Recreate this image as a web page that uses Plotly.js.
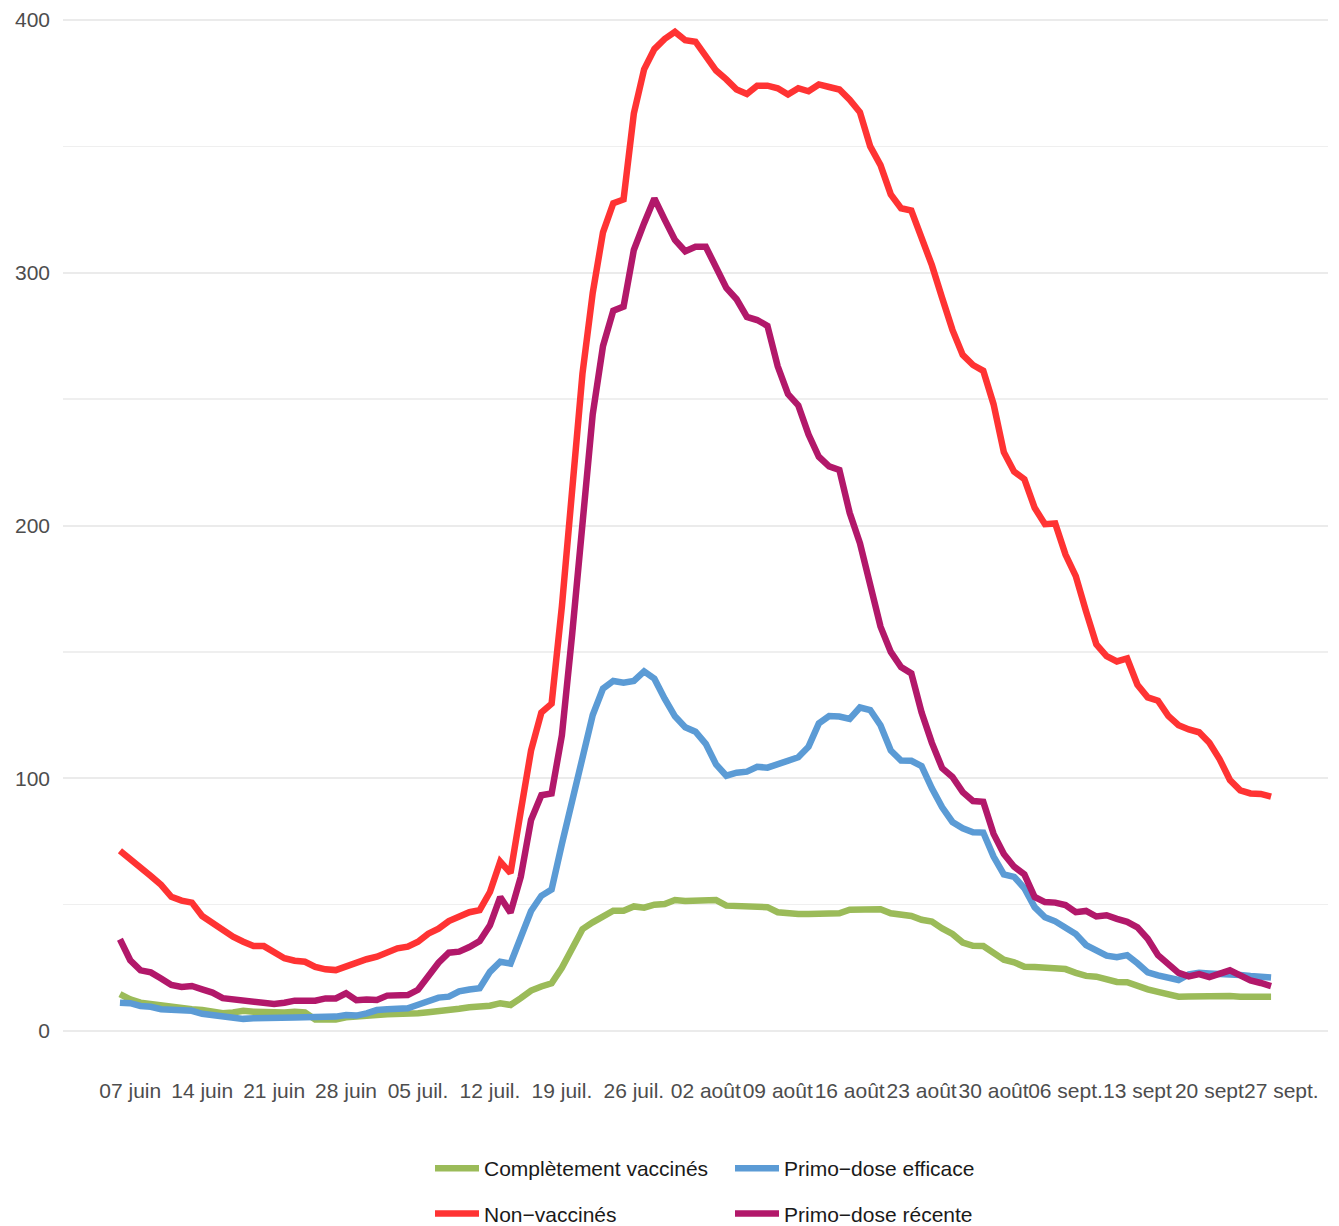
<!DOCTYPE html>
<html>
<head>
<meta charset="utf-8">
<script src="https://cdn.plot.ly/plotly-3.0.1.min.js"></script>
<style>
  html, body { margin: 0; padding: 0; background: #ffffff; }
  #chart { width: 1339px; height: 1226px; }
</style>
</head>
<body>
<div id="chart"></div>
<script>
// ---- Data (daily values, 06 June 2021 -> 26 Sept 2021) ----
const startDate = '2021-06-06';
const nDays = 113;

const seriesNames = ['Complètement vaccinés', 'Non\u2212vaccinés', 'Primo\u2212dose efficace', 'Primo\u2212dose récente'];

const completementVaccines = [
  14.6, 12.5, 11.2, 10.7, 9.6, 9.4, 9.0, 8.6, 8.3, 7.6,
  7.0, 7.3, 8.0, 7.6, 7.3, 7.3, 7.3, 7.6, 7.3, 4.6,
  4.6, 4.6, 5.4, 5.9, 6.3, 6.3, 6.6, 6.6, 6.7, 7.0,
  7.4, 7.7, 8.3, 8.8, 9.4, 9.7, 10.0, 11.0, 10.3, 13.0,
  16.0, 17.6, 18.9, 25.0, 32.5, 40.3, 43.0, 45.5, 47.6, 47.6,
  49.3, 48.8, 50.0, 50.2, 51.8, 51.4, 51.5, 51.8, 51.8, 49.6,
  49.5, 49.0, 49.1, 49.0, 47.0, 46.4, 46.3, 46.3, 46.5, 46.3,
  46.6, 48.0, 48.0, 48.0, 48.2, 46.6, 46.0, 45.5, 44.0, 43.3,
  40.6, 38.4, 35.0, 33.7, 33.6, 31.2, 28.2, 27.2, 25.4, 25.3,
  25.2, 25.0, 24.5, 23.0, 21.8, 21.5, 20.4, 19.4, 19.3, 17.8,
  16.5, 15.5, 14.6, 13.6, 13.7, 13.8, 14.0, 14.1, 13.8, 13.6,
  13.8, 13.6, 13.6
];

const nonVaccines = [
  71.3, 67.7, 64.8, 61.3, 57.8, 53.1, 51.6, 50.8, 45.5, 42.7,
  40.3, 37.3, 35.3, 33.6, 33.6, 31.0, 28.8, 27.8, 27.4, 25.4,
  24.4, 24.1, 25.7, 26.8, 28.4, 29.4, 31.4, 32.7, 33.4, 35.3,
  38.5, 40.5, 43.5, 45.3, 47.0, 47.8, 55.0, 67.0, 62.5, 87.0,
  111.0, 126.0, 129.5, 168.0, 212.0, 260.0, 292.0, 316.0, 327.5, 329.0,
  363.0, 380.5, 388.5, 392.5, 395.3, 392.0, 391.4, 385.3, 380.0, 376.5,
  372.5, 370.7, 374.0, 374.0, 373.0, 370.5, 373.0, 371.8, 374.5, 373.5,
  372.5, 368.5, 363.5, 350.0, 342.6, 331.0, 325.5, 324.6, 314.5, 303.0,
  290.0, 277.4, 267.5, 263.5, 261.2, 248.0, 229.0, 221.3, 218.3, 207.0,
  200.5, 200.8, 188.5, 180.0, 166.0, 153.0, 148.3, 146.2, 147.4, 137.0,
  132.0, 130.7, 124.7, 121.0, 119.3, 118.2, 114.0, 107.5, 99.3, 95.2,
  94.0, 93.8, 92.7
];

const primoDoseEfficace = [
  11.2, 11.0, 9.9, 9.6, 8.6, 8.6, 8.0, 8.0, 6.8, 6.3,
  6.1, 5.7, 4.8, 5.0, 5.0, 4.7, 5.0, 5.3, 5.4, 5.4,
  5.4, 5.7, 6.3, 6.1, 7.0, 8.3, 8.6, 9.0, 9.0, 10.4,
  12.0, 13.2, 13.6, 15.7, 16.4, 16.9, 23.4, 27.4, 26.7, 37.0,
  47.5, 53.5, 56.0, 74.0, 91.0, 110.5, 125.0, 135.5, 138.5, 137.8,
  138.5, 142.3, 139.4, 131.5, 124.5, 120.2, 118.4, 113.6, 105.5, 101.0,
  102.2, 102.6, 104.5, 104.2, 105.4, 107.2, 108.3, 112.5, 121.7, 124.6,
  124.4, 123.5, 128.0, 127.0, 121.0, 111.0, 107.0, 106.9, 104.8, 96.0,
  88.5, 82.7, 80.2, 78.6, 78.5, 69.0, 62.0, 61.0, 56.5, 49.0,
  45.0, 43.4, 41.0, 38.4, 34.0, 31.6, 29.8, 29.2, 30.0, 26.8,
  23.2, 22.0, 21.2, 20.2, 22.4, 23.0, 22.8, 22.8, 22.6, 22.2,
  21.8, 21.5, 21.2
];

const primoDoseRecente = [
  36.3, 28.0, 24.0, 23.2, 20.8, 18.2, 17.4, 17.8, 16.5, 15.2,
  13.0, 12.5, 12.0, 11.2, 10.8, 10.7, 11.2, 12.0, 12.0, 12.0,
  12.9, 12.9, 14.9, 12.2, 12.5, 12.3, 14.0, 14.2, 14.2, 16.3,
  22.0, 27.0, 31.0, 31.4, 33.2, 35.6, 41.8, 53.0, 46.8, 61.0,
  83.5, 93.3, 94.0, 117.0, 157.0, 201.0, 244.0, 271.0, 285.0, 286.6,
  309.0, 319.6, 329.4, 321.0, 313.0, 308.5, 310.3, 310.3, 302.0, 294.0,
  289.5, 282.5, 281.3, 279.0, 263.0, 252.0, 247.5, 236.0, 227.2, 223.4,
  222.0, 205.0, 193.0, 177.0, 160.0, 150.0, 144.0, 141.5, 126.0, 114.0,
  104.0, 100.5, 94.5, 91.0, 90.7, 78.0, 70.0, 65.0, 62.0, 53.0,
  51.0, 50.8, 49.8, 47.0, 47.5, 45.3, 45.8, 44.4, 43.2, 41.0,
  36.5, 30.0, 26.3, 23.0, 21.6, 22.5, 21.3, 22.5, 24.0, 22.0,
  20.0, 19.0, 17.8
];

const tickDates = ['2021-06-07','2021-06-14','2021-06-21','2021-06-28','2021-07-05','2021-07-12','2021-07-19','2021-07-26',
                   '2021-08-02','2021-08-09','2021-08-16','2021-08-23','2021-08-30','2021-09-06','2021-09-13','2021-09-20','2021-09-27'];
const tickLabels = ['07 juin','14 juin','21 juin','28 juin','05 juil.','12 juil.','19 juil.','26 juil.',
                    '02 août','09 août','16 août','23 août','30 août','06 sept.','13 sept','20 sept','27 sept.'];

const yTickVals = [0, 100, 200, 300, 400];

// ---- Build date axis ----
function buildDates(start, n) {
  const out = [];
  const d0 = new Date(start + 'T00:00:00Z');
  for (let i = 0; i < n; i++) {
    const d = new Date(d0.getTime() + i * 86400000);
    out.push(d.toISOString().slice(0, 10));
  }
  return out;
}
const dates = buildDates(startDate, nDays);

const colors = ['#9BBB59', '#FF3333', '#5B9BD5', '#B2186A'];
const values = [completementVaccines, nonVaccines, primoDoseEfficace, primoDoseRecente];
const legendIds = ['legend', 'legend', 'legend2', 'legend2'];

const traces = values.map((v, i) => ({
  type: 'scatter',
  mode: 'lines',
  x: dates,
  y: v,
  name: seriesNames[i],
  line: { color: colors[i], width: 6.5, shape: 'linear' },
  legend: legendIds[i],
  legendgroup: 'g' + i,
  hoverinfo: 'skip'
}));

const FONT = 'Liberation Sans, Arial, sans-serif';
const legendFont = { family: FONT, size: 21, color: '#1a1a1a' };

const layout = {
  width: 1339,
  height: 1226,
  margin: { l: 63, r: 11, t: 5, b: 161, autoexpand: false },
  paper_bgcolor: '#ffffff',
  plot_bgcolor: '#ffffff',
  font: { family: FONT, size: 21, color: '#4D4D4D' },
  showlegend: true,
  xaxis: {
    type: 'date',
    range: ['2021-05-31 11:00', '2021-10-01 13:00'],
    tickmode: 'array',
    tickvals: tickDates,
    ticktext: tickLabels,
    tickangle: 0,
    ticklabeloverflow: 'allow',
    showgrid: false,
    zeroline: false,
    showline: false,
    ticks: '',
    automargin: false,
    ticklabelstandoff: 11,
    tickfont: { size: 21, color: '#4D4D4D' }
  },
  yaxis: {
    range: [-13.45, 405.93],
    tickmode: 'array',
    tickvals: yTickVals,
    showgrid: true,
    gridcolor: '#EBEBEB',
    gridwidth: 2,
    zeroline: false,
    showline: false,
    ticks: '',
    automargin: false,
    ticklabelstandoff: 12,
    tickfont: { size: 21, color: '#4D4D4D' },
    minor: { dtick: 50, tick0: 50, showgrid: true, gridcolor: '#EFEFEF', gridwidth: 1.5, ticks: '' }
  },
  legend: {
    orientation: 'v',
    x: (430 - 63) / 1265, xanchor: 'left',
    y: (1065 - 1148) / 1060, yanchor: 'top',
    font: legendFont,
    itemwidth: 44,
    tracegroupgap: 15,
    bgcolor: 'rgba(0,0,0,0)',
    borderwidth: 0
  },
  legend2: {
    orientation: 'v',
    x: (730 - 63) / 1265, xanchor: 'left',
    y: (1065 - 1148) / 1060, yanchor: 'top',
    font: legendFont,
    itemwidth: 44,
    tracegroupgap: 15,
    bgcolor: 'rgba(0,0,0,0)',
    borderwidth: 0
  }
};

Plotly.newPlot('chart', traces, layout, { displayModeBar: false, staticPlot: true });
</script>
</body>
</html>
